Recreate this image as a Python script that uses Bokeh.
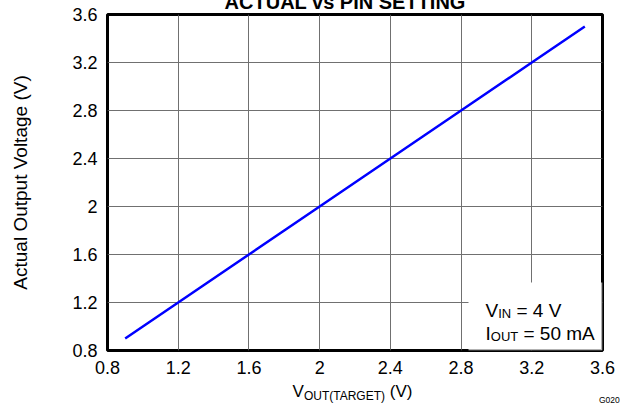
from bokeh.plotting import figure
from bokeh.models import Label, BoxAnnotation, FixedTicker, Range1d, Div
from bokeh.layouts import column
from bokeh.embed import file_html
from bokeh.resources import INLINE

# ---- data ----
vout_target = [0.9, 1.2, 1.6, 2.0, 2.4, 2.8, 3.2, 3.5]
vout_actual = [0.9, 1.2, 1.6, 2.0, 2.4, 2.8, 3.2, 3.5]
x_ticks = [0.8, 1.2, 1.6, 2.0, 2.4, 2.8, 3.2, 3.6]
x_tick_labels = ["0.8", "1.2", "1.6", "2", "2.4", "2.8", "3.2", "3.6"]
y_ticks = [0.8, 1.2, 1.6, 2.0, 2.4, 2.8, 3.2, 3.6]
y_tick_labels = ["0.8", "1.2", "1.6", "2", "2.4", "2.8", "3.2", "3.6"]
title_text = "ACTUAL vs PIN SETTING"
y_label = "Actual Output Voltage (V)"
x_label_main, x_label_sub, x_label_unit = "V", "OUT(TARGET)", "(V)"
fig_code = "G020"

FONT = "Liberation Sans"
CSS_FONT = "'Liberation Sans', Arial, sans-serif"

p = figure(width=629, height=382,
           x_range=Range1d(0.8, 3.6), y_range=Range1d(0.8, 3.6),
           output_backend="svg", toolbar_location=None,
           min_border_left=107, min_border_right=27,
           min_border_top=14, min_border_bottom=32,
           background_fill_color="white", border_fill_color="white")
p.margin = 0

# axes
for ax, ticks, labels in ((p.xaxis, x_ticks, x_tick_labels), (p.yaxis, y_ticks, y_tick_labels)):
    ax.ticker = FixedTicker(ticks=ticks)
    ax.major_label_overrides = dict(zip(ticks, labels))
    ax.axis_line_color = None
    ax.major_tick_line_color = None
    ax.minor_tick_line_color = None
    ax.major_tick_out = 0
    ax.major_tick_in = 0
    ax.major_label_standoff = 10
    ax.major_label_text_font = FONT
    ax.major_label_text_font_size = "18px"
    ax.major_label_text_color = "black"

p.yaxis.axis_label = y_label
p.yaxis.axis_label_text_font = FONT
p.yaxis.axis_label_text_font_size = "19px"
p.yaxis.axis_label_text_font_style = "normal"
p.yaxis.axis_label_text_color = "black"
p.yaxis.axis_label_standoff = 38

p.xgrid.grid_line_color = "#707070"
p.ygrid.grid_line_color = "#707070"
p.xgrid.grid_line_width = 1
p.ygrid.grid_line_width = 1

p.outline_line_color = "black"
p.outline_line_width = 3
p.outline_line_alpha = 1

# data line
p.line(vout_target, vout_actual, line_color="#0000ff", line_width=2.5)

# white box behind the conditions text
p.add_layout(BoxAnnotation(left=2.842, right=3.6, top=1.367, bottom=0.8,
                           fill_color="white", fill_alpha=1, line_color=None))

# frame border drawn on top
p.add_layout(BoxAnnotation(left=0.8, right=3.6, top=3.6, bottom=0.8,
                           fill_alpha=0, line_color="black", line_width=3))

def lab(text, x, y, xo, yo, size):
    p.add_layout(Label(x=x, y=y, x_offset=xo, y_offset=yo, text=text,
                       text_font=FONT, text_font_size=size,
                       text_color="black", text_align="left",
                       text_baseline="alphabetic"))

# conditions text
lab("V", 3.6, 0.8, -117, 40, "19px")
lab("IN", 3.6, 0.8, -104.3, 37, "13px")
lab("= 4 V", 3.6, 0.8, -86, 40, "19px")
lab("I", 3.6, 0.8, -117, 17, "19px")
lab("OUT", 3.6, 0.8, -111.7, 14, "13px")
lab("= 50 mA", 3.6, 0.8, -79, 17, "19px")

# title strip (cut off at the top of the window, as in the reference)
title_div = Div(
    text=(f'<div style="position:relative;width:629px;height:11px;">'
          f'<span style="position:absolute;left:0;top:-10px;width:690px;text-align:center;'
          f'font-family:{CSS_FONT};font-weight:bold;font-size:20px;line-height:23px;'
          f'white-space:nowrap;color:black;">{title_text}</span></div>'),
    width=629, height=11, margin=0,
    styles={"margin-bottom": "-11px", "z-index": "2", "position": "relative",
            "overflow": "visible"})

# x axis label with subscript and figure code
bottom_div = Div(
    text=(f'<div style="position:relative;width:629px;height:23px;font-family:{CSS_FONT};color:black;">'
          f'<span style="position:absolute;left:0;top:0;width:705px;text-align:center;'
          f'font-size:17px;line-height:20px;white-space:nowrap;">{x_label_main}'
          f'<span style="font-size:12px;position:relative;top:3px;">{x_label_sub}</span>'
          f' {x_label_unit}</span>'
          f'<span style="position:absolute;left:599px;top:13px;font-size:8.5px;line-height:10px;'
          f'white-space:nowrap;">{fig_code}</span></div>'),
    width=629, height=23, margin=0)

layout = column(title_div, p, bottom_div, spacing=0)
layout.margin = 0

open("out.html", "w").write(file_html(layout, INLINE))
